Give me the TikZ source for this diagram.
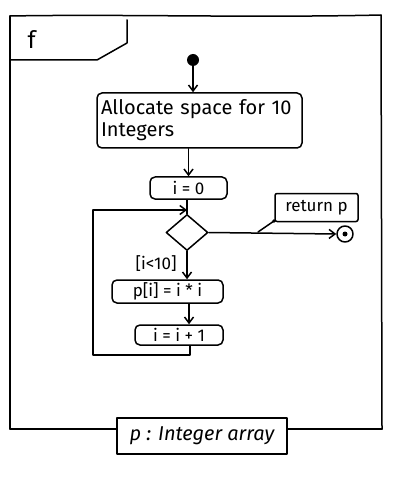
\documentclass[tikz,border=0pt]{standalone}
\usepackage{fontspec}
\setmainfont{Fira Sans}
\usetikzlibrary{shapes.geometric,arrows.meta}
\begin{document}
\begin{tikzpicture}[x=1pt,y=-1pt,
  ink/.style={line width=1.5pt, line cap=round, line join=round},
  txt/.style={font=\fontsize{17}{19}\selectfont},
  act/.style={ink, draw, rounded corners=5pt, inner sep=2pt, txt},
  flow/.style={ink, -{Straight Barb[length=6pt,width=9pt]}}
]
\useasboundingbox (0,0) rectangle (418,478);
% frame
\draw[ink] (10,16) .. controls (120,14) and (250,18) .. (381,15) -- (382,429);
\draw[ink] (10,16) -- (10,429);
% tab
\draw[ink] (127,20) -- (127,43) -- (97,60) -- (10,60);
\node[font=\fontsize{24}{24}\selectfont, anchor=west] (fname) at (24,40) {f};
% bottom parameter box
\node[ink, draw, minimum width=170pt, minimum height=36pt, font=\fontsize{20}{20}\selectfont\itshape, inner sep=1pt] (ptype) at (202,436) {p : Integer array};
\draw[ink] (10,429) -- (ptype.west |- 0,429);
\draw[ink] (ptype.east |- 0,429) -- (382,429);
% start
\node[circle, fill, inner sep=0pt, minimum size=12pt] (start) at (193,60) {};
% allocate
\node[act, minimum width=205pt, minimum height=55pt, align=left, text width=197pt, font=\fontsize{20}{22}\selectfont] (alloc) at (199.5,120.5) {Allocate space for 10\\Integers};
\draw[flow] (start) -- (start |- alloc.north);
% i=0
\node[act, minimum width=77pt, minimum height=22pt] (init) at (188.5,188) {i = 0};
\draw[flow] (alloc.south -| init) -- (init.north);
% decision
\node[ink, draw, diamond, inner sep=0pt, minimum width=42pt, minimum height=36pt] (dec) at (187,232.5) {};
\coordinate (join) at (187,210);
\draw[ink] (init.south -| dec) -- (dec.north);
% guard
\node[txt, anchor=east] (guard) at (180,264) {[i<10]};
% body
\node[act, minimum width=111pt, minimum height=23pt] (body) at (167.5,291.5) {p[i] = i * i};
\draw[flow] (dec.south) -- (dec.south |- body.north);
\node[act, minimum width=88pt, minimum height=20pt] (inc) at (179,335) {i = i + 1};
\draw[flow] (body.south -| 189,0) -- (inc.north -| 189,0);
% loop back
\coordinate (lb) at (190,355);
\draw[ink] (inc.south -| lb) -- (lb) -- (93,355) -- (93,210);
\draw[flow] (93,210) -- (join);
% final
\node[circle, draw, ink, inner sep=0pt, minimum size=16pt] (final) at (345,234) {};
\node[circle, fill, inner sep=0pt, minimum size=5pt] (finaldot) at (final.center) {};
\draw[flow] (dec.east) -- (final.west);
% note
\node[ink, draw, rounded corners=2pt, minimum width=83pt, minimum height=28pt, txt] (note) at (316.5,207.5) {return p};
\coordinate (attach) at (258,232);
\draw[ink] (attach) -- (274,221);
\fill (274,221) circle (1.8pt);
\end{tikzpicture}
\end{document}
